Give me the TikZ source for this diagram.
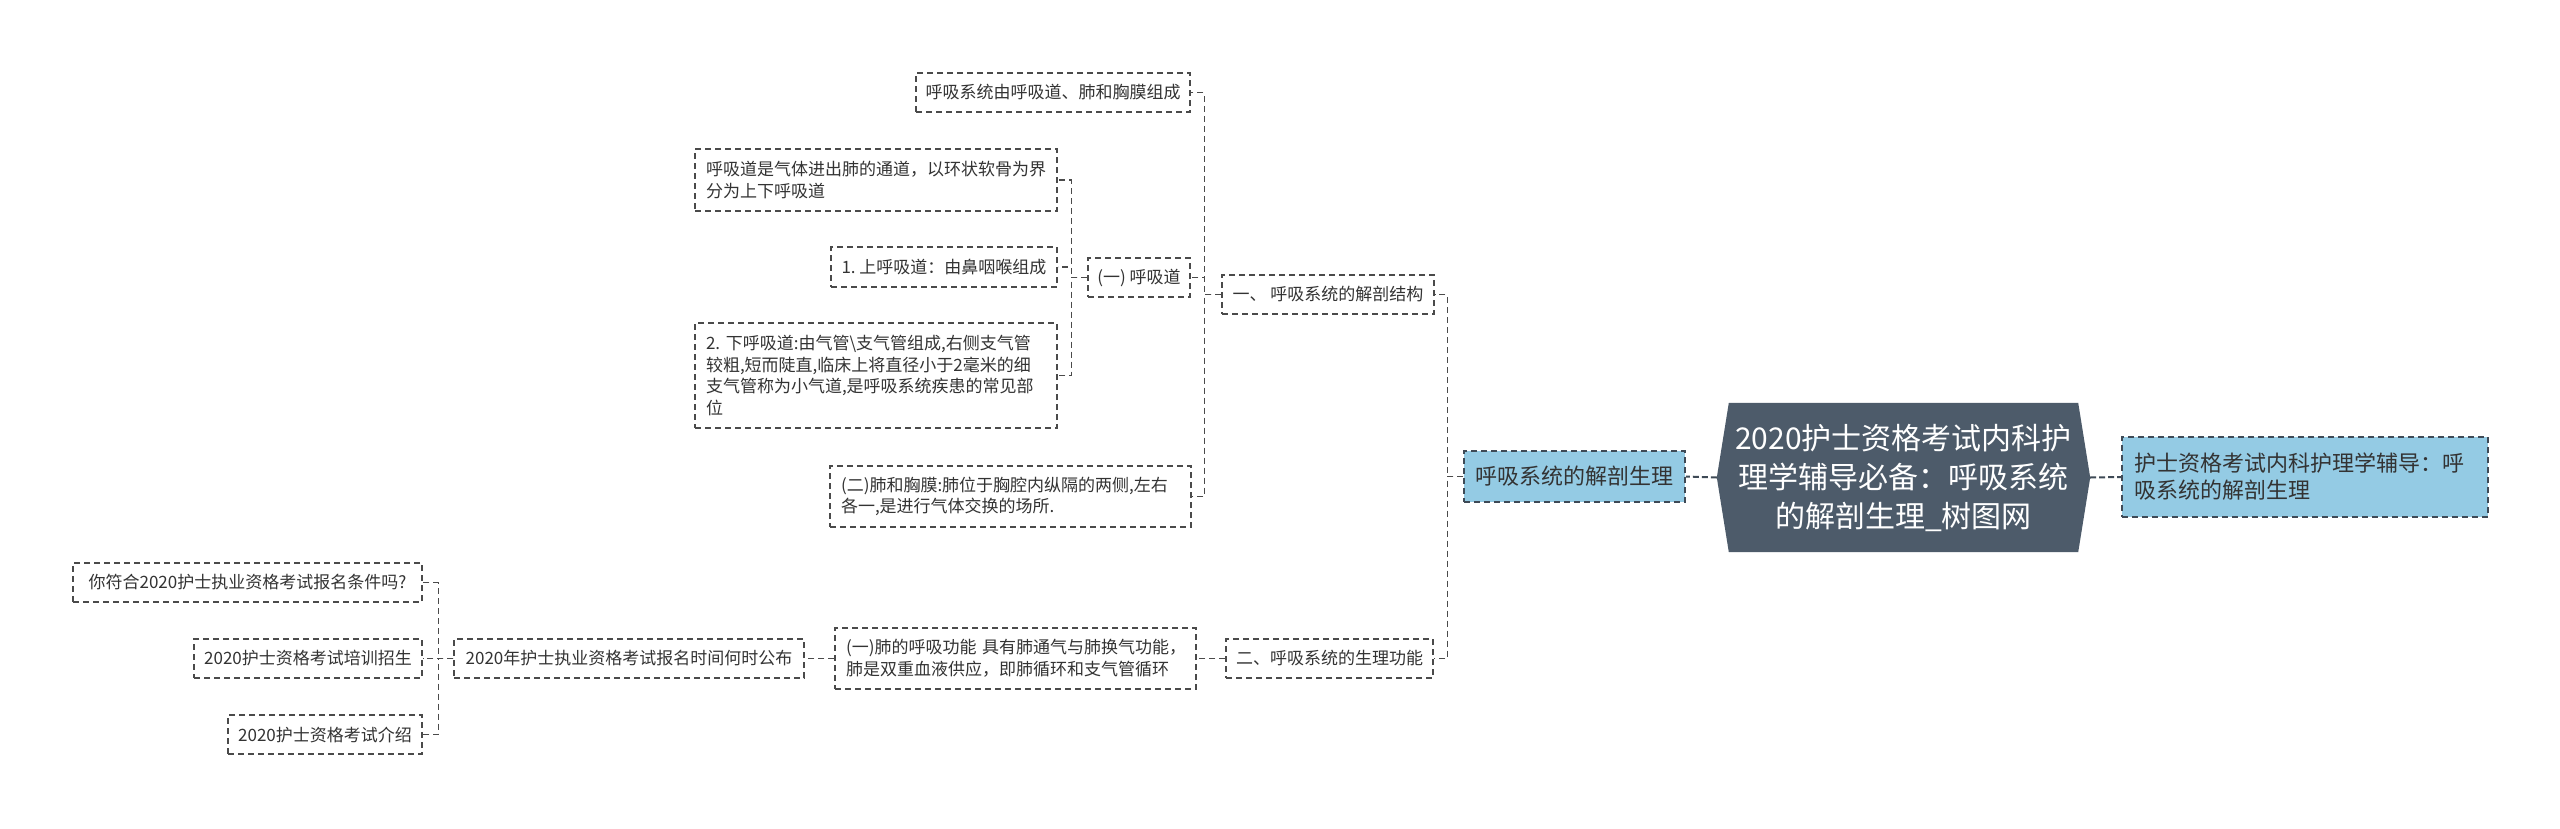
\documentclass[tikz,border=0pt]{standalone}
\usepackage{fontspec}
\newfontfamily\cjk{Noto Sans CJK SC}
\usetikzlibrary{backgrounds}
\definecolor{txt}{HTML}{333333}
\definecolor{bord}{HTML}{4A4A4A}
\definecolor{blueA}{HTML}{94CBE4}
\definecolor{hexc}{HTML}{4D5B6A}
\definecolor{darkb}{HTML}{3E4A56}
\tikzset{
  box/.style={rectangle, draw=bord, dash pattern=on 6pt off 4pt, line width=1.5pt,
    text=txt, font=\cjk\fontsize{17pt}{21.7pt}\selectfont, inner xsep=9pt, inner ysep=0pt,
    align=center},
  mbox/.style={box, inner xsep=11pt, align=left},
  bluebox/.style={box, fill=blueA, draw=darkb, font=\cjk\fontsize{22pt}{27pt}\selectfont, inner xsep=11pt},
  conn/.style={draw=bord, dash pattern=on 6pt off 4pt, line width=1.5pt},
  rootconn/.style={draw=darkb, dash pattern=on 6pt off 3pt, line width=2pt},
}
\begin{document}
\begin{tikzpicture}[x=1pt,y=-1pt]
\useasboundingbox (0,0) rectangle (2560,828);

% root
\node[text=white, font=\cjk\fontsize{30pt}{39pt}\selectfont, align=center,
  minimum width=373pt, minimum height=149pt, inner sep=0pt] (root) at (1903.5,477.5)
  {2020护士资格考试内科护\\理学辅导必备：呼吸系统\\的解剖生理\_树图网};
\begin{scope}[on background layer]
\fill[white] (0,0) rectangle (2560,828);
\fill[hexc] (root.west) -- ([xshift=12pt]root.north west) -- ([xshift=-12pt]root.north east)
  -- (root.east) -- ([xshift=-12pt]root.south east) -- ([xshift=12pt]root.south west) -- cycle;
\end{scope}

% level 1
\node[bluebox, minimum width=221pt, minimum height=51pt] (bl) at (1574.5,476.5) {呼吸系统的解剖生理};
\node[bluebox, text width=342pt, minimum height=80pt, inner xsep=12pt, align=left] (br) at (2305,477)
  {护士资格考试内科护理学辅导：呼\\吸系统的解剖生理};

% level 2
\node[box, minimum width=212pt, minimum height=39pt] (s1) at (1328,294.5) {一、\ 呼吸系统的解剖结构};
\node[box, minimum width=207pt, minimum height=39pt] (s2) at (1329.5,658.5) {二、呼吸系统的生理功能};

% children of s1
\node[box, minimum width=274pt, minimum height=39pt] (n1) at (1053,92.5) {呼吸系统由呼吸道、肺和胸膜组成};
\node[box, minimum width=102pt, minimum height=39pt] (n5) at (1139,277.5) {(一) 呼吸道};
\node[mbox, text width=339pt, minimum height=61pt] (n7) at (1010.5,496.5)
  {(二)肺和胸膜:肺位于胸腔内纵隔的两侧,左右\\各一,是进行气体交换的场所.};

% children of n5
\node[mbox, text width=340pt, minimum height=62pt] (a1) at (876,180)
  {呼吸道是气体进出肺的通道，以环状软骨为界\\分为上下呼吸道};
\node[box, minimum width=226pt, minimum height=40pt] (a2) at (944,267) {1.~上呼吸道：由鼻咽喉组成};
\node[mbox, text width=340pt, minimum height=105pt] (a3) at (876,375.5)
  {2.~下呼吸道:由气管\textbackslash 支气管组成,右侧支气管\\较粗,短而陡直,临床上将直径小于2毫米的细\\支气管称为小气道,是呼吸系统疾患的常见部\\位};

% children of s2
\node[mbox, text width=339pt, minimum height=61pt] (n9) at (1015.5,658.5)
  {(一)肺的呼吸功能~具有肺通气与肺换气功能，\\肺是双重血液供应，即肺循环和支气管循环};
\node[box, minimum width=350pt, minimum height=39pt] (n10) at (629,658.5) {2020年护士执业资格考试报名时间何时公布};
\node[box, minimum width=349pt, minimum height=39pt] (c1) at (247.5,582.5) {你符合2020护士执业资格考试报名条件吗?};
\node[box, minimum width=228pt, minimum height=39pt] (c2) at (308,658.5) {2020护士资格考试培训招生};
\node[box, minimum width=194pt, minimum height=39pt] (c3) at (325,734.5) {2020护士资格考试介绍};

% connectors
\draw[rootconn] (root.west) -- (bl.east);
\draw[rootconn] (root.east) -- (br.west);
\draw[conn] (bl.west) -- ++(-16,0) |- (s1.east);
\draw[conn] (bl.west) -- ++(-16,0) |- (s2.east);
\draw[conn] (s1.west) -- ++(-17,0) |- (n1.east);
\draw[conn] (s1.west) -- ++(-17,0) |- (n5.east);
\draw[conn] (s1.west) -- ++(-17,0) |- (n7.east);
\draw[conn] (n5.west) -- ++(-16,0) |- (a1.east);
\draw[conn] (n5.west) -- ++(-16,0) |- (a2.east);
\draw[conn] (n5.west) -- ++(-16,0) |- (a3.east);
\draw[conn] (s2.west) -- (n9.east);
\draw[conn] (n9.west) -- (n10.east);
\draw[conn] (n10.west) -- ++(-15,0) |- (c1.east);
\draw[conn] (n10.west) -- ++(-15,0) |- (c2.east);
\draw[conn] (n10.west) -- ++(-15,0) |- (c3.east);
\end{tikzpicture}
\end{document}
